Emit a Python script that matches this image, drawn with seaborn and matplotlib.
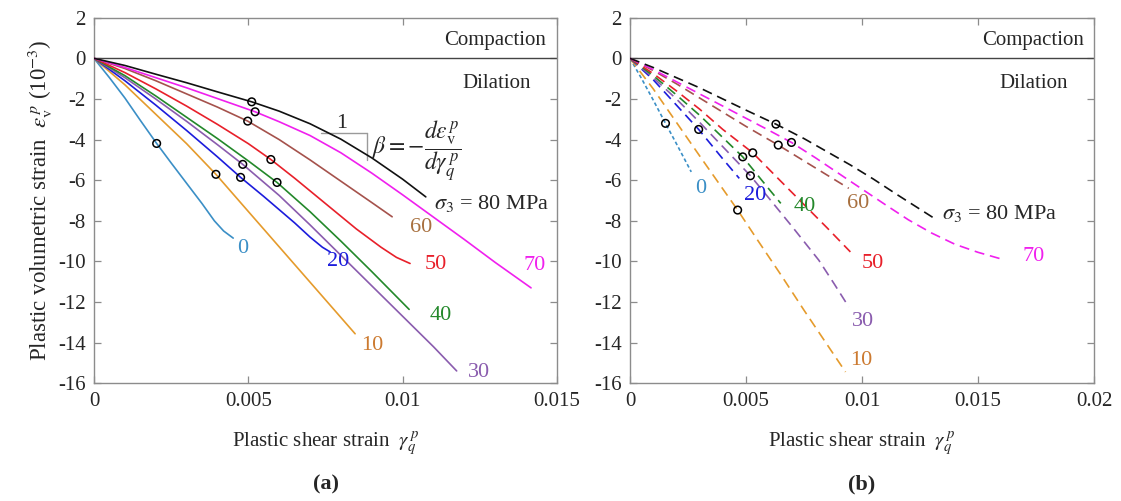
import numpy as np
import pandas as pd
import matplotlib
matplotlib.use("Agg")
import matplotlib.pyplot as plt
import seaborn as sns

# ---------------- data: panel (a) ----------------
a0_x = [0, 0.0005, 0.001, 0.0015, 0.00203, 0.0025, 0.003, 0.0035, 0.0039, 0.0042, 0.00451]
a0_y = [0, -0.95, -1.95, -3.05, -4.19, -5.15, -6.15, -7.15, -8.0, -8.5, -8.85]
a10_x = [0, 0.001, 0.002, 0.003, 0.00395, 0.005, 0.006, 0.007, 0.008, 0.00846]
a10_y = [0, -1.3, -2.75, -4.2, -5.71, -7.54, -9.28, -11.02, -12.76, -13.56]
a20_x = [0, 0.001, 0.002, 0.003, 0.004, 0.00475, 0.0055, 0.006, 0.0065, 0.007, 0.0074, 0.00765]
a20_y = [0, -1.1, -2.3, -3.55, -4.85, -5.86, -6.8, -7.45, -8.1, -8.8, -9.3, -9.53]
a30_x = [0, 0.001, 0.002, 0.003, 0.004, 0.00482, 0.006, 0.007, 0.008, 0.009, 0.010, 0.011, 0.01175]
a30_y = [0, -0.95, -2.0, -3.1, -4.25, -5.22, -6.75, -8.2, -9.7, -11.2, -12.7, -14.2, -15.39]
a40_x = [0, 0.001, 0.002, 0.003, 0.004, 0.005, 0.00593, 0.007, 0.008, 0.009, 0.01021]
a40_y = [0, -0.85, -1.85, -2.9, -3.95, -5.05, -6.11, -7.55, -9.0, -10.5, -12.36]
a50_x = [0, 0.001, 0.002, 0.003, 0.004, 0.005, 0.00573, 0.0065, 0.0075, 0.0085, 0.0093, 0.0098, 0.01024]
a50_y = [0, -0.7, -1.5, -2.35, -3.25, -4.2, -4.98, -5.9, -7.15, -8.4, -9.3, -9.8, -10.1]
a60_x = [0, 0.001, 0.002, 0.003, 0.004, 0.00498, 0.006, 0.007, 0.008, 0.009, 0.00966]
a60_y = [0, -0.5, -1.1, -1.75, -2.4, -3.09, -4.0, -5.0, -6.05, -7.1, -7.8]
a70_x = [0, 0.001, 0.002, 0.003, 0.004, 0.00522, 0.006, 0.007, 0.008, 0.009, 0.010, 0.011, 0.012, 0.013, 0.01416]
a70_y = [0, -0.45, -0.95, -1.45, -1.98, -2.63, -3.12, -3.8, -4.65, -5.65, -6.72, -7.82, -8.92, -10.05, -11.3]
a80_x = [0, 0.001, 0.002, 0.003, 0.004, 0.00511, 0.006, 0.007, 0.008, 0.009, 0.010, 0.01075]
a80_y = [0, -0.35, -0.78, -1.2, -1.65, -2.14, -2.6, -3.22, -3.98, -4.9, -5.95, -6.82]

# circled points (a)
a_mark_x = [0.00203, 0.00395, 0.00475, 0.00482, 0.00593, 0.00573, 0.00498, 0.00522, 0.00511]
a_mark_y = [-4.19, -5.71, -5.86, -5.22, -6.11, -4.98, -3.09, -2.63, -2.14]

# ---------------- data: panel (b) ----------------
b0_x = [0, 0.0005, 0.001, 0.00153, 0.002, 0.00264]
b0_y = [0, -1.0, -2.05, -3.2, -4.2, -5.59]
b10_x = [0, 0.001, 0.002, 0.003, 0.00464, 0.0055, 0.0065, 0.0075, 0.0085, 0.00929]
b10_y = [0, -1.5, -3.15, -4.8, -7.47, -8.95, -10.65, -12.4, -14.1, -15.44]
b20_x = [0, 0.001, 0.002, 0.00296, 0.0035, 0.004, 0.00471]
b20_y = [0, -1.05, -2.3, -3.5, -4.25, -4.95, -5.91]
b30_x = [0, 0.001, 0.002, 0.003, 0.004, 0.00519, 0.006, 0.007, 0.00814, 0.0088, 0.00943]
b30_y = [0, -0.95, -2.0, -3.15, -4.35, -5.78, -6.9, -8.3, -9.94, -11.1, -12.24]
b40_x = [0, 0.001, 0.002, 0.003, 0.004, 0.00486, 0.0055, 0.006, 0.0065]
b40_y = [0, -0.85, -1.8, -2.8, -3.9, -4.85, -5.75, -6.45, -7.14]
b50_x = [0, 0.001, 0.002, 0.003, 0.004, 0.00529, 0.0065, 0.0075, 0.0085, 0.0095]
b50_y = [0, -0.75, -1.6, -2.5, -3.5, -4.65, -6.05, -7.2, -8.35, -9.53]
b60_x = [0, 0.001, 0.002, 0.003, 0.004, 0.005, 0.00639, 0.0075, 0.0085, 0.00943]
b60_y = [0, -0.6, -1.25, -1.95, -2.65, -3.35, -4.27, -5.05, -5.75, -6.4]
b70_x = [0, 0.001, 0.002, 0.003, 0.004, 0.005, 0.006, 0.00696, 0.008, 0.00943, 0.011, 0.012, 0.013, 0.014, 0.015, 0.01607]
b70_y = [0, -0.55, -1.15, -1.75, -2.35, -2.95, -3.55, -4.14, -4.9, -6.0, -7.2, -7.95, -8.6, -9.15, -9.55, -9.9]
b80_x = [0, 0.001, 0.002, 0.003, 0.004, 0.005, 0.00629, 0.0075, 0.0085, 0.0095, 0.0105, 0.0115, 0.01312]
b80_y = [0, -0.45, -0.95, -1.45, -2.0, -2.55, -3.24, -3.95, -4.6, -5.25, -5.95, -6.7, -7.88]

b_mark_x = [0.00153, 0.00464, 0.00296, 0.00519, 0.00486, 0.00529, 0.00639, 0.00696, 0.00629]
b_mark_y = [-3.2, -7.47, -3.5, -5.78, -4.85, -4.65, -4.27, -4.14, -3.24]

series_names = ["0", "10", "20", "30", "40", "50", "60", "70", "80"]
colors = ["#3b8fc6", "#e59b2c", "#1c1cdc", "#8a5cae", "#23882a", "#e8202a", "#a5524c", "#f020ee", "#111111"]
label_colors = ["#3b8fc6", "#cc7a30", "#1c1cdc", "#8a5cae", "#23882a", "#e8202a", "#a8703f", "#f020ee", "#111111"]

a_label_x = [0.00464, 0.00867, 0.00754, 0.01213, 0.01088, 0.01072, 0.01024, 0.01391]
a_label_y = [-9.36, -14.12, -10.02, -15.49, -12.64, -10.15, -8.33, -10.18]
b_label_x = [0.00279, 0.0095, 0.00493, 0.00955, 0.00707, 0.0100, 0.00936, 0.01693]
b_label_y = [-6.4, -14.86, -6.73, -12.98, -7.31, -10.1, -7.14, -9.77]

a_series = [(a0_x, a0_y), (a10_x, a10_y), (a20_x, a20_y), (a30_x, a30_y), (a40_x, a40_y),
            (a50_x, a50_y), (a60_x, a60_y), (a70_x, a70_y), (a80_x, a80_y)]
b_series = [(b0_x, b0_y), (b10_x, b10_y), (b20_x, b20_y), (b30_x, b30_y), (b40_x, b40_y),
            (b50_x, b50_y), (b60_x, b60_y), (b70_x, b70_y), (b80_x, b80_y)]

yticks = [2, 0, -2, -4, -6, -8, -10, -12, -14, -16]
a_xticks = [0, 0.005, 0.01, 0.015]
a_xticklabels = ["0", "0.005", "0.01", "0.015"]
b_xticks = [0, 0.005, 0.01, 0.015, 0.02]
b_xticklabels = ["0", "0.005", "0.01", "0.015", "0.02"]

# ---------------- style ----------------
sns.set_style("ticks")
plt.rcParams["font.family"] = ["Liberation Serif", "DejaVu Serif"]
plt.rcParams["mathtext.fontset"] = "stix"
plt.rcParams["axes.unicode_minus"] = False

FS = 15
spine_col = "#8c8c8c"

fig = plt.figure(figsize=(11.21, 5.01), dpi=100)
ax1 = fig.add_axes([0.08385, 0.2349, 0.4130, 0.7297])
ax2 = fig.add_axes([0.5620, 0.2349, 0.4139, 0.7297])


def draw(ax, series, marks_x, marks_y, lab_x, lab_y, dashed):
    for i, (xs, ys) in enumerate(series):
        df = pd.DataFrame({"x": xs, "y": ys})
        if dashed:
            ls = (0, (2.2, 1.6)) if i == 0 else (0, (6, 3.5))
        else:
            ls = "-"
        sns.lineplot(data=df, x="x", y="y", ax=ax, color=colors[i], linewidth=1.2,
                     linestyle=ls, estimator=None, sort=False, zorder=3)
    mdf = pd.DataFrame({"x": marks_x, "y": marks_y})
    sns.scatterplot(data=mdf, x="x", y="y", ax=ax, marker="o", s=30,
                    facecolors="none", edgecolor="black", linewidth=1.1, zorder=5)
    for i in range(8):
        ax.text(lab_x[i], lab_y[i], series_names[i], color=label_colors[i],
                fontsize=FS + 1, ha="left", va="center", zorder=6)
    ax.axhline(0, color="#444444", linewidth=1.0, zorder=2)
    ax.set_ylim(-16, 2)
    ax.set_yticks(yticks)
    ax.set_yticklabels([str(v) for v in yticks], fontsize=FS)
    for sp in ax.spines.values():
        sp.set_color(spine_col)
        sp.set_linewidth(1.0)
        sp.set_visible(True)
    ax.tick_params(direction="in", top=True, right=True, length=5, width=0.9,
                   color=spine_col, labelsize=FS, pad=6)
    ax.set_xlabel(r"Plastic shear strain  $\gamma_q^{\,p}$", fontsize=FS, labelpad=14)
    ax.set_ylabel("")


draw(ax1, a_series, a_mark_x, a_mark_y, a_label_x, a_label_y, dashed=False)
draw(ax2, b_series, b_mark_x, b_mark_y, b_label_x, b_label_y, dashed=True)

ax1.set_xlim(0, 0.015)
ax1.set_xticks(a_xticks)
ax1.set_xticklabels(a_xticklabels, fontsize=FS)
ax2.set_xlim(0, 0.02)
ax2.set_xticks(b_xticks)
ax2.set_xticklabels(b_xticklabels, fontsize=FS)

ax1.set_ylabel(r"Plastic volumetric strain  $\varepsilon_\mathrm{v}^{\,p}$ (10$^{-3}$)", fontsize=16.5, labelpad=2)

# region annotations
ax1.text(0.01466, 0.87, "Compaction", fontsize=FS, ha="right", va="center")
ax1.text(0.01304, -1.23, "Dilation", fontsize=FS, ha="center", va="center")
ax2.text(0.01957, 0.87, "Compaction", fontsize=FS, ha="right", va="center")
ax2.text(0.01739, -1.23, "Dilation", fontsize=FS, ha="center", va="center")

# sigma3 labels
ax1.text(0.0110, -7.15, r"$\sigma_3$ = 80 MPa", fontsize=FS + 1, ha="left", va="center")
ax2.text(0.01343, -7.64, r"$\sigma_3$ = 80 MPa", fontsize=FS + 1, ha="left", va="center")

# slope triangle and beta definition (panel a)
ax1.plot([0.00735, 0.00883], [-3.69, -3.69], color="#9a9a9a", linewidth=1.0, zorder=2)
ax1.plot([0.00883, 0.00883], [-3.69, -5.01], color="#9a9a9a", linewidth=1.0, zorder=2)
ax1.text(0.00802, -3.2, "1", fontsize=FS + 1, ha="center", va="center")
ax1.text(0.00902, -4.6,
         r"$\beta = -\dfrac{d\varepsilon_\mathrm{v}^{\,p}}{d\gamma_q^{\,p}}$",
         fontsize=FS + 2, ha="left", va="center")

# sub-captions
fig.text(0.2904, 0.032, "(a)", fontsize=FS + 1, fontweight="bold", ha="center", va="center")
fig.text(0.7690, 0.032, "(b)", fontsize=FS + 1, fontweight="bold", ha="center", va="center")

fig.savefig("out.png", dpi=100, facecolor="white")
